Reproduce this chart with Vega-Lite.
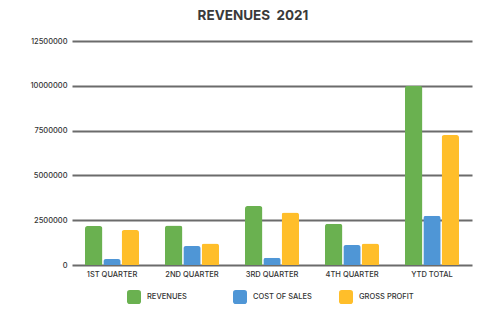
{
  "$schema": "https://vega.github.io/schema/vega-lite/v6.json",
  "width": 400,
  "height": 224,
  "autosize": {"type": "none"},
  "padding": {"left": 72, "top": 41, "right": 7, "bottom": 53},
  "background": "white",
  "title": {
    "text": "REVENUES \u00a02021",
    "font": "Inter",
    "fontSize": 13.5,
    "fontWeight": "bold",
    "color": "#3a3a3a",
    "anchor": "middle",
    "dx": -19,
    "offset": 15
  },
  "data": {
    "values": [
      {"quarter": "1ST QUARTER", "series": "REVENUES", "value": 2175000},
      {"quarter": "1ST QUARTER", "series": "COST OF SALES", "value": 330000},
      {"quarter": "1ST QUARTER", "series": "GROSS PROFIT", "value": 1950000},
      {"quarter": "2ND QUARTER", "series": "REVENUES", "value": 2200000},
      {"quarter": "2ND QUARTER", "series": "COST OF SALES", "value": 1060000},
      {"quarter": "2ND QUARTER", "series": "GROSS PROFIT", "value": 1200000},
      {"quarter": "3RD QUARTER", "series": "REVENUES", "value": 3290000},
      {"quarter": "3RD QUARTER", "series": "COST OF SALES", "value": 400000},
      {"quarter": "3RD QUARTER", "series": "GROSS PROFIT", "value": 2930000},
      {"quarter": "4TH QUARTER", "series": "REVENUES", "value": 2300000},
      {"quarter": "4TH QUARTER", "series": "COST OF SALES", "value": 1110000},
      {"quarter": "4TH QUARTER", "series": "GROSS PROFIT", "value": 1200000},
      {"quarter": "YTD TOTAL", "series": "REVENUES", "value": 10000000},
      {"quarter": "YTD TOTAL", "series": "COST OF SALES", "value": 2750000},
      {"quarter": "YTD TOTAL", "series": "GROSS PROFIT", "value": 7250000}
    ]
  },
  "mark": {"type": "bar", "cornerRadiusEnd": 2.5},
  "encoding": {
    "x": {
      "field": "quarter",
      "type": "nominal",
      "sort": null,
      "scale": {"paddingInner": 0.325, "paddingOuter": 0.1625},
      "axis": {
        "title": null,
        "labelAngle": 0,
        "ticks": false,
        "domain": false,
        "labelFont": "Inter",
        "labelFontSize": 7.5,
        "labelFontWeight": 500,
        "labelColor": "#333333",
        "labelPadding": 5
      }
    },
    "xOffset": {
      "field": "series",
      "type": "nominal",
      "sort": ["REVENUES", "COST OF SALES", "GROSS PROFIT"],
      "scale": {"paddingInner": 0.05, "paddingOuter": 0}
    },
    "y": {
      "field": "value",
      "type": "quantitative",
      "scale": {"domain": [0, 12500000], "nice": false},
      "axis": {
        "title": null,
        "values": [0, 2500000, 5000000, 7500000, 10000000, 12500000],
        "format": "d",
        "ticks": false,
        "domain": false,
        "gridColor": "#6b6b6b",
        "gridWidth": 2.2,
        "gridOpacity": 1,
        "labelFont": "Inter",
        "labelFontSize": 7.5,
        "labelFontWeight": 500,
        "labelColor": "#333333",
        "labelPadding": 5
      }
    },
    "color": {
      "field": "series",
      "type": "nominal",
      "sort": ["REVENUES", "COST OF SALES", "GROSS PROFIT"],
      "scale": {
        "domain": ["REVENUES", "COST OF SALES", "GROSS PROFIT"],
        "range": ["#6ab150", "#4f96d6", "#ffbe2a"]
      },
      "legend": {
        "title": null,
        "orient": "none",
        "legendX": 55,
        "legendY": 249,
        "direction": "horizontal",
        "gridAlign": "all",
        "symbolType": "M -0.6 -1 L 0.6 -1 Q 1 -1 1 -0.6 L 1 0.6 Q 1 1 0.6 1 L -0.6 1 Q -1 1 -1 0.6 L -1 -0.6 Q -1 -1 -0.6 -1 Z",
        "symbolSize": 196,
        "symbolStrokeWidth": 0,
        "symbolOpacity": 1,
        "labelFont": "Inter",
        "labelFontSize": 7.5,
        "labelFontWeight": 500,
        "labelColor": "#333333",
        "labelOffset": 6,
        "columnPadding": 27
      }
    }
  },
  "config": {"view": {"stroke": null}}
}
